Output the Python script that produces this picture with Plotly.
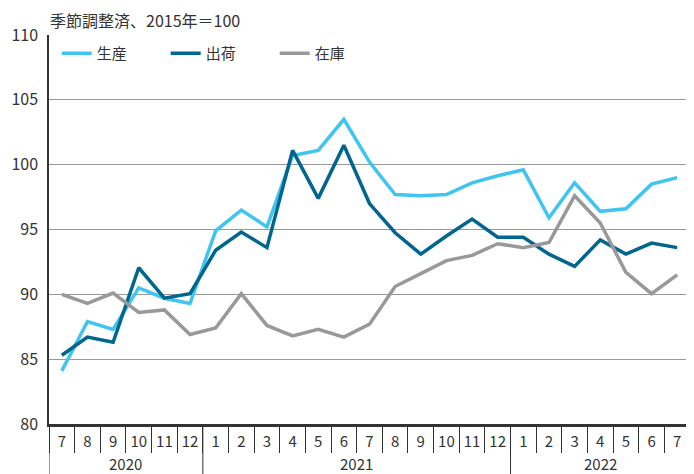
import plotly.graph_objects as go

years = ["2020"] * 6 + ["2021"] * 12 + ["2022"] * 7
months = ["7", "8", "9", "10", "11", "12",
          "1", "2", "3", "4", "5", "6", "7", "8", "9", "10", "11", "12",
          "1", "2", "3", "4", "5", "6", "7"]

production = [84.1, 87.9, 87.3, 90.5, 89.7, 89.3,
              94.9, 96.5, 95.2, 100.7, 101.1, 103.5, 100.2, 97.7, 97.6, 97.7, 98.6, 99.15,
              99.6, 95.9, 98.6, 96.4, 96.6, 98.5, 99.0]
shipments = [85.3, 86.7, 86.3, 92.05, 89.7, 90.05,
             93.4, 94.8, 93.6, 101.1, 97.4, 101.5, 97.0, 94.75, 93.1, 94.5, 95.8, 94.4,
             94.4, 93.1, 92.15, 94.2, 93.1, 93.95, 93.6]
inventory = [90.0, 89.3, 90.1, 88.6, 88.8, 86.9,
             87.4, 90.05, 87.6, 86.8, 87.3, 86.7, 87.7, 90.6, 91.6, 92.6, 93.0, 93.9,
             93.6, 94.0, 97.6, 95.5, 91.7, 90.05, 91.5]

series = [("生産", production, "#40C4F0"),
          ("出荷", shipments, "#00668E"),
          ("在庫", inventory, "#999999")]

FONT = "Noto Sans CJK JP"
TXT = "#333333"
n = len(months)
idx = list(range(n))

fig = go.Figure()
for name, vals, col in series:
    fig.add_trace(go.Scatter(x=idx, y=vals, name=name, mode="lines",
                             line=dict(color=col, width=3.5)))

# year groups derived from the years list
groups = []
for i, y in enumerate(years):
    if not groups or groups[-1][0] != y:
        groups.append([y, i, i])
    else:
        groups[-1][2] = i

annotations = [dict(text="季節調整済、2015年＝100", xref="paper", yref="paper",
                    x=-0.002, y=1.0, yshift=1, xanchor="left", yanchor="bottom",
                    showarrow=False, font=dict(size=16, color=TXT))]
shapes = []
for y, a, b in groups:
    annotations.append(dict(text=y, xref="x", yref="paper", x=(a + b) / 2, y=0,
                            yshift=-39, xanchor="center", yanchor="middle",
                            showarrow=False, font=dict(size=15, color=TXT)))
for y, a, b in groups:
    shapes.append(dict(type="line", xref="x", yref="paper", x0=a - 0.5, x1=a - 0.5,
                       y0=0, y1=-0.2, line=dict(color=TXT, width=1)))
shapes.append(dict(type="line", xref="x", yref="paper", x0=n - 0.5, x1=n - 0.5,
                   y0=0, y1=-0.2, line=dict(color=TXT, width=1)))

fig.update_layout(
    width=686, height=466,
    margin=dict(l=41, r=4, t=27, b=50),
    plot_bgcolor="white", paper_bgcolor="white",
    font=dict(family=FONT, size=15, color=TXT),
    showlegend=True,
    legend=dict(orientation="h", x=0.012, y=0.995, xanchor="left", yanchor="top",
                bgcolor="rgba(0,0,0,0)", font=dict(size=15, color=TXT),
                entrywidth=64, entrywidthmode="pixels", traceorder="normal"),
    annotations=annotations,
    shapes=shapes,
)
fig.update_yaxes(range=[80, 110], dtick=5, showgrid=True, gridcolor="#999999",
                 gridwidth=1, showline=True, linecolor=TXT, linewidth=1.5,
                 zeroline=False, ticks="", tickfont=dict(size=16, color=TXT),
                 ticklabelstandoff=6, automargin=False)
fig.update_xaxes(range=[-0.5, n - 0.5], tickmode="array", tickvals=idx, ticktext=months,
                 ticks="", showline=True, linecolor=TXT, linewidth=2.5,
                 showgrid=False, zeroline=False, tickfont=dict(size=15, color=TXT),
                 ticklabelstandoff=2, automargin=False,
                 minor=dict(tickmode="array", tickvals=[i - 0.5 for i in range(n + 1)],
                            ticks="outside", ticklen=26, tickcolor=TXT, tickwidth=1,
                            showgrid=False))

fig.write_html("out.html")
